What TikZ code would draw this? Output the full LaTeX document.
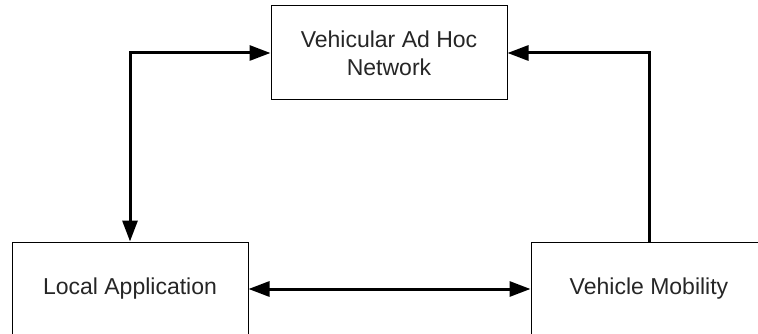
\documentclass[tikz,border=0pt]{standalone}
\usepackage{fontspec}
\setmainfont{Liberation Sans}
\usetikzlibrary{arrows.meta}
\tikzset{
  tip/.tip={Triangle[length=21pt,width=15pt]},
  block/.style={draw, line width=1pt, minimum width=236pt, minimum height=94pt,
    inner sep=0pt, align=center, font=\fontsize{23}{28}\selectfont, text=black!85},
  link/.style={line width=3pt, line join=miter, arrows={-tip}},
  blink/.style={line width=3pt, line join=miter, arrows={tip-tip}}
}
\begin{document}
\begin{tikzpicture}[x=1pt,y=-1pt]
  \clip (0,0) rectangle (758,334);
  \fill[white] (0,0) rectangle (758,334);
  \node[block] (vanet) at (389,53) {Vehicular Ad Hoc\\Network};
  \node[block] (app) at (130,289) {Local Application};
  \node[block] (mob) at (649,289) {Vehicle Mobility};
  \draw[blink] (app.north) |- (vanet.west);
  \draw[link] (mob.north) |- (vanet.east);
  \draw[blink] (app.east) -- (mob.west);
\end{tikzpicture}
\end{document}
